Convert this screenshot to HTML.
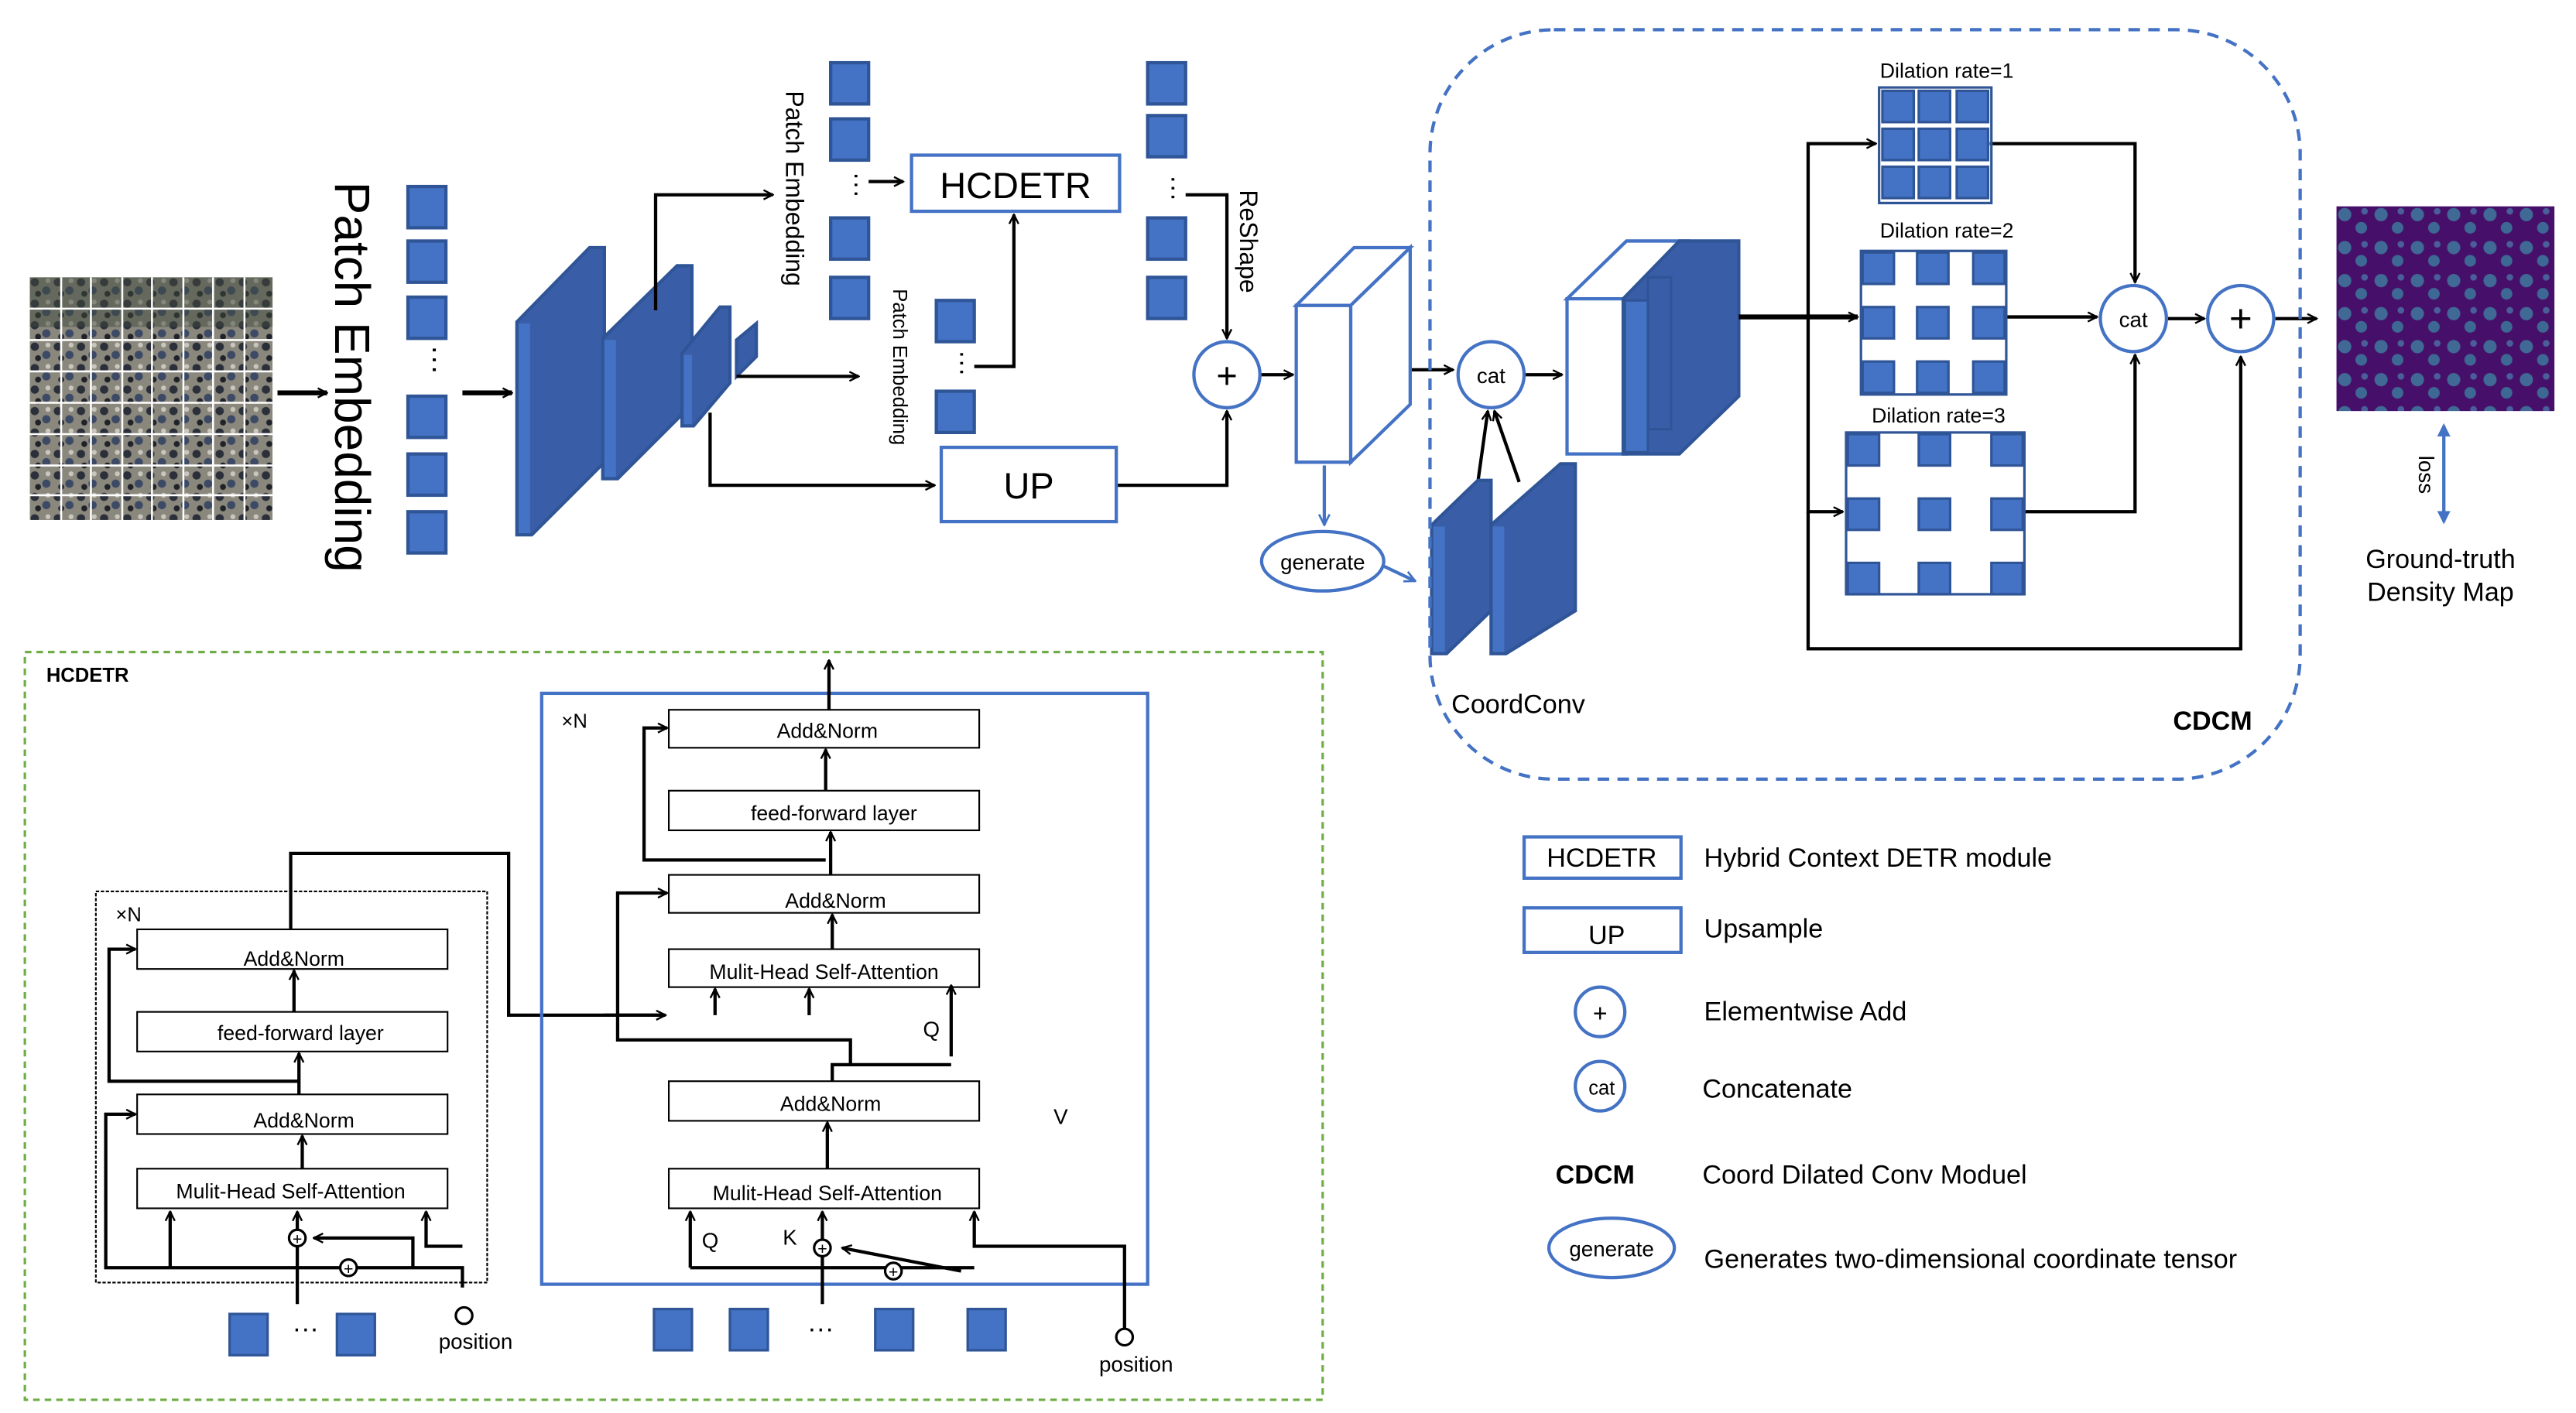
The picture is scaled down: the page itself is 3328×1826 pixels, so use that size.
<!DOCTYPE html>
<html><head><meta charset="utf-8"><style>
html,body{margin:0;padding:0;background:#fff;}
svg{display:block;font-family:"Liberation Sans",Arial,sans-serif;}
</style></head><body>
<svg width="3328" height="1826" viewBox="0 0 1560 856" xmlns="http://www.w3.org/2000/svg">
<defs>
<marker id="a" viewBox="0 0 10 10" refX="9" refY="5" markerWidth="7" markerHeight="7" orient="auto" markerUnits="userSpaceOnUse"><path d="M1,1 L9,5 L1,9" fill="none" stroke="#000" stroke-width="1.6"/></marker>
<marker id="ab" viewBox="0 0 10 10" refX="9" refY="5" markerWidth="8" markerHeight="8" orient="auto" markerUnits="userSpaceOnUse"><path d="M1,1 L9,5 L1,9" fill="none" stroke="#4472C4" stroke-width="1.6"/></marker>
<marker id="at" viewBox="0 0 10 10" refX="8" refY="5" markerWidth="8" markerHeight="8" orient="auto-start-reverse" markerUnits="userSpaceOnUse"><path d="M0,0 L10,5 L0,10z" fill="#4472C4"/></marker>
<pattern id="crowd" x="18" y="168" width="14" height="13" patternUnits="userSpaceOnUse">
<rect width="14" height="13" fill="#8a877d"/>
<circle cx="3" cy="3" r="2.5" fill="#2b2f3a"/><circle cx="10" cy="8" r="2.5" fill="#3d4a66"/><circle cx="5" cy="10" r="1.8" fill="#1f2228"/><circle cx="11" cy="2" r="1.5" fill="#c9c6bd"/>
</pattern>
<pattern id="blob" x="1415" y="125" width="22" height="20" patternUnits="userSpaceOnUse">
<rect width="22" height="20" fill="#46106a"/>
<circle cx="5" cy="5" r="4" fill="#3f7fa0" opacity="0.8"/><circle cx="15" cy="13" r="3.5" fill="#3b8ea6" opacity="0.7"/><circle cx="17" cy="3" r="2" fill="#4a5f9a"/>
</pattern>
</defs>
<g stroke="#000" stroke-width="2" fill="none">
<rect x="18" y="168" width="147" height="147" fill="url(#crowd)" stroke="none"/>
<rect x="18" y="168" width="147" height="30" fill="#3f4a3c" stroke="none" opacity="0.5"/>
<g stroke="#fff" stroke-width="1.2">
<line x1="37" y1="168" x2="37" y2="315"/><line x1="55" y1="168" x2="55" y2="315"/><line x1="74" y1="168" x2="74" y2="315"/><line x1="92" y1="168" x2="92" y2="315"/><line x1="111" y1="168" x2="111" y2="315"/><line x1="129" y1="168" x2="129" y2="315"/><line x1="148" y1="168" x2="148" y2="315"/>
<line x1="18" y1="187" x2="165" y2="187"/><line x1="18" y1="206" x2="165" y2="206"/><line x1="18" y1="225" x2="165" y2="225"/><line x1="18" y1="244" x2="165" y2="244"/><line x1="18" y1="263" x2="165" y2="263"/><line x1="18" y1="282" x2="165" y2="282"/><line x1="18" y1="300" x2="165" y2="300"/>
</g>
<line x1="168" y1="238" x2="198" y2="238" marker-end="url(#a)" stroke-width="3"/>
<line x1="280" y1="238" x2="310" y2="238" marker-end="url(#a)" stroke-width="3"/>
</g>
<text transform="translate(203,110) rotate(90)" font-size="30" fill="#000">Patch Embedding</text>
<g fill="#4472C4" stroke="#2F5597" stroke-width="2">
<rect x="247" y="113" width="23" height="25"/><rect x="247" y="146" width="23" height="25"/><rect x="247" y="180" width="23" height="25"/>
<rect x="247" y="240" width="23" height="25"/><rect x="247" y="275" width="23" height="25"/><rect x="247" y="310" width="23" height="25"/>
</g>
<text x="258" y="218" font-size="18" text-anchor="middle" transform="rotate(90,258,218)">···</text>
<g fill="#3A5DA8" stroke="#2F5597" stroke-width="2">
<polygon points="313,195 357,150 366,150 366,280 322,324 313,324"/>
<polygon points="365,205 410,161 419,161 419,245 374,290 365,290"/>
<polygon points="413,214 436,186 442,186 442,232 420,258 413,258"/>
<polygon points="446,206 458,196 458,216 446,228"/>
</g>
<g fill="#4472C4" stroke="none"><rect x="314" y="196" width="7" height="127"/><rect x="366" y="206" width="7" height="83"/><rect x="414" y="215" width="5" height="42"/></g>
<g stroke="#000" stroke-width="2" fill="none">
<polyline points="397,188 397,118 468,118" marker-end="url(#a)"/>
<line x1="446" y1="228" x2="520" y2="228" marker-end="url(#a)"/>
<polyline points="430,250 430,294 566,294" marker-end="url(#a)"/>
<line x1="526" y1="110" x2="547" y2="110" marker-end="url(#a)"/>
<polyline points="590,222 614,222 614,130" marker-end="url(#a)"/>
<polyline points="676,294 743,294 743,249" marker-end="url(#a)"/>
<polyline points="718,118 743,118 743,205" marker-end="url(#a)"/>
<line x1="763" y1="227" x2="783" y2="227" marker-end="url(#a)"/>
<line x1="853" y1="224" x2="880" y2="224" marker-end="url(#a)"/>
<line x1="923" y1="227" x2="946" y2="227" marker-end="url(#a)"/>
<line x1="895" y1="292" x2="901" y2="249" marker-end="url(#a)"/>
<line x1="920" y1="292" x2="905" y2="249" marker-end="url(#a)"/>
</g>
<text transform="translate(476,55) rotate(90)" font-size="15">Patch Embedding</text>
<text transform="translate(541,175) rotate(90)" font-size="12">Patch Embedding</text>
<text transform="translate(751,115) rotate(90)" font-size="15">ReShape</text>
<g fill="#4472C4" stroke="#2F5597" stroke-width="2">
<rect x="503" y="38" width="23" height="25"/><rect x="503" y="72" width="23" height="25"/><rect x="503" y="132" width="23" height="25"/><rect x="503" y="168" width="23" height="25"/>
<rect x="567" y="182" width="23" height="25"/><rect x="567" y="237" width="23" height="25"/>
<rect x="695" y="38" width="23" height="25"/><rect x="695" y="70" width="23" height="25"/><rect x="695" y="132" width="23" height="25"/><rect x="695" y="168" width="23" height="25"/>
</g>
<text x="514" y="112" font-size="16" text-anchor="middle" transform="rotate(90,514,112)">···</text>
<text x="578" y="220" font-size="16" text-anchor="middle" transform="rotate(90,578,220)">···</text>
<text x="706" y="114" font-size="16" text-anchor="middle" transform="rotate(90,706,114)">···</text>
<rect x="552" y="94" width="126" height="34" fill="#fff" stroke="#4472C4" stroke-width="2"/>
<text x="615" y="120" font-size="22" text-anchor="middle">HCDETR</text>
<rect x="570" y="271" width="106" height="45" fill="#fff" stroke="#4472C4" stroke-width="2"/>
<text x="623" y="302" font-size="22" text-anchor="middle">UP</text>
<circle cx="743" cy="227" r="20" fill="#fff" stroke="#4472C4" stroke-width="2"/>
<text x="743" y="235" font-size="22" text-anchor="middle">+</text>
<g fill="#fff" stroke="#4472C4" stroke-width="2">
<rect x="785" y="185" width="33" height="95"/>
<polygon points="785,185 820,150 854,150 818,185"/>
<polygon points="818,185 854,150 854,245 818,280"/>
</g>
<line x1="802" y1="282" x2="802" y2="318" stroke="#4472C4" stroke-width="2" marker-end="url(#ab)"/>
<ellipse cx="801" cy="340" rx="37" ry="18" fill="#fff" stroke="#4472C4" stroke-width="2"/>
<text x="801" y="345" font-size="13" text-anchor="middle">generate</text>
<line x1="838" y1="343" x2="857" y2="352" stroke="#4472C4" stroke-width="2" marker-end="url(#ab)"/>
<circle cx="903" cy="227" r="20" fill="#fff" stroke="#4472C4" stroke-width="2"/>
<text x="903" y="232" font-size="13" text-anchor="middle">cat</text>
<g fill="#3A5DA8" stroke="#2F5597" stroke-width="2">
<polygon points="867,318 895,291 903,291 903,370 876,396 867,396"/>
<polygon points="903,318 945,281 954,281 954,370 912,396 903,396"/>
</g>
<g fill="#4472C4"><rect x="868" y="319" width="7" height="76"/><rect x="904" y="319" width="7" height="76"/></g>
<g stroke="#4472C4" stroke-width="2">
<polygon points="949,181 985,146 1021,146 985,181" fill="#fff"/>
<rect x="949" y="181" width="36" height="94" fill="#fff"/>
<polygon points="983,181 1017,146 1053,146 1053,240 1017,275 983,275" fill="#3A5DA8" stroke="#2F5597"/>
</g>
<g stroke="#2F5597" stroke-width="1.5" fill="#4472C4"><rect x="984" y="182" width="14" height="92"/><rect x="998" y="168" width="14" height="92" fill="none"/></g>
<line x1="1053" y1="192" x2="1125" y2="192" stroke="#000" stroke-width="3" marker-end="url(#a)"/>
<g stroke="#000" stroke-width="2" fill="none">
<polyline points="1095,192 1095,87 1136,87" marker-end="url(#a)"/>
<polyline points="1095,192 1095,310 1116,310" marker-end="url(#a)"/>
<polyline points="1095,310 1095,393 1357,393 1357,216" marker-end="url(#a)"/>
<polyline points="1205,87 1293,87 1293,171" marker-end="url(#a)"/>
<line x1="1214" y1="192" x2="1270" y2="192" marker-end="url(#a)"/>
<polyline points="1226,310 1293,310 1293,215" marker-end="url(#a)"/>
<line x1="1313" y1="193" x2="1335" y2="193" marker-end="url(#a)"/>
<line x1="1378" y1="193" x2="1403" y2="193" marker-end="url(#a)"/>
</g>
<g fill="#4472C4" stroke="#2F5597" stroke-width="1.5">
<rect x="1140" y="55" width="19" height="19"/><rect x="1162" y="55" width="19" height="19"/><rect x="1185" y="55" width="19" height="19"/>
<rect x="1140" y="78" width="19" height="19"/><rect x="1162" y="78" width="19" height="19"/><rect x="1185" y="78" width="19" height="19"/>
<rect x="1140" y="101" width="19" height="19"/><rect x="1162" y="101" width="19" height="19"/><rect x="1185" y="101" width="19" height="19"/>
<rect x="1128" y="153" width="19" height="19"/><rect x="1161" y="153" width="19" height="19"/><rect x="1195" y="153" width="19" height="19"/>
<rect x="1128" y="186" width="19" height="19"/><rect x="1161" y="186" width="19" height="19"/><rect x="1195" y="186" width="19" height="19"/>
<rect x="1128" y="219" width="19" height="19"/><rect x="1161" y="219" width="19" height="19"/><rect x="1195" y="219" width="19" height="19"/>
<rect x="1119" y="263" width="19" height="19"/><rect x="1162" y="263" width="19" height="19"/><rect x="1206" y="263" width="19" height="19"/>
<rect x="1119" y="302" width="19" height="19"/><rect x="1162" y="302" width="19" height="19"/><rect x="1206" y="302" width="19" height="19"/>
<rect x="1119" y="341" width="19" height="19"/><rect x="1162" y="341" width="19" height="19"/><rect x="1206" y="341" width="19" height="19"/>
</g>
<g fill="none" stroke="#2F5597" stroke-width="1.5"><rect x="1138" y="53" width="68" height="70"/><rect x="1127" y="152" width="88" height="87"/><rect x="1118" y="262" width="108" height="98"/></g>
<g font-size="12.5" text-anchor="middle"><text x="1179" y="47">Dilation rate=1</text><text x="1179" y="144">Dilation rate=2</text><text x="1174" y="256">Dilation rate=3</text></g>
<circle cx="1292" cy="193" r="20" fill="#fff" stroke="#4472C4" stroke-width="2"/>
<text x="1292" y="198" font-size="13" text-anchor="middle">cat</text>
<circle cx="1357" cy="193" r="20" fill="#fff" stroke="#4472C4" stroke-width="2"/>
<text x="1357" y="201" font-size="24" text-anchor="middle">+</text>
<rect x="866" y="18" width="527" height="454" rx="75" fill="none" stroke="#4472C4" stroke-width="2" stroke-dasharray="7,5"/>
<text x="879" y="432" font-size="16">CoordConv</text>
<text x="1316" y="442" font-size="16" font-weight="bold">CDCM</text>
<rect x="1415" y="125" width="132" height="124" fill="url(#blob)"/>
<line x1="1480" y1="258" x2="1480" y2="316" stroke="#4472C4" stroke-width="2" marker-start="url(#at)" marker-end="url(#at)"/>
<text transform="translate(1465,276) rotate(90)" font-size="13">loss</text>
<text x="1478" y="344" font-size="16" text-anchor="middle">Ground-truth</text>
<text x="1478" y="364" font-size="16" text-anchor="middle">Density Map</text>
<rect x="923" y="507" width="95" height="25" fill="#fff" stroke="#4472C4" stroke-width="2"/>
<text x="970" y="525" font-size="16" text-anchor="middle">HCDETR</text>
<text x="1032" y="525" font-size="16">Hybrid Context  DETR module</text>
<rect x="923" y="550" width="95" height="27" fill="#fff" stroke="#4472C4" stroke-width="2"/>
<text x="973" y="572" font-size="16" text-anchor="middle">UP</text>
<text x="1032" y="568" font-size="16">Upsample</text>
<circle cx="969" cy="613" r="15" fill="#fff" stroke="#4472C4" stroke-width="2"/>
<text x="969" y="619" font-size="15" text-anchor="middle">+</text>
<text x="1032" y="618" font-size="16">Elementwise Add</text>
<circle cx="969" cy="658" r="15" fill="#fff" stroke="#4472C4" stroke-width="2"/>
<text x="970" y="663" font-size="12" text-anchor="middle">cat</text>
<text x="1031" y="665" font-size="16">Concatenate</text>
<text x="942" y="717" font-size="16" font-weight="bold">CDCM</text>
<text x="1031" y="717" font-size="16">Coord Dilated Conv Moduel</text>
<ellipse cx="976" cy="756" rx="38" ry="18" fill="#fff" stroke="#4472C4" stroke-width="2"/>
<text x="976" y="761" font-size="13" text-anchor="middle">generate</text>
<text x="1032" y="768" font-size="16">Generates  two-dimensional coordinate tensor</text>
<rect x="15" y="395" width="786" height="453" fill="none" stroke="#70AD47" stroke-width="1.5" stroke-dasharray="4,3"/>
<text x="28" y="413" font-size="12" font-weight="bold">HCDETR</text>
<rect x="58" y="540" width="237" height="237" fill="none" stroke="#000" stroke-width="1" stroke-dasharray="2,1"/>
<text x="70" y="558" font-size="12">×N</text>
<g fill="#fff" stroke="#000" stroke-width="1">
<rect x="83" y="563" width="188" height="24"/><rect x="83" y="613" width="188" height="24"/><rect x="83" y="663" width="188" height="24"/><rect x="83" y="708" width="188" height="24"/>
<rect x="405" y="430" width="188" height="23"/><rect x="405" y="479" width="188" height="24"/><rect x="405" y="530" width="188" height="23"/><rect x="405" y="575" width="188" height="23"/><rect x="405" y="655" width="188" height="24"/><rect x="405" y="708" width="188" height="24"/>
</g>
<g font-size="12.5" text-anchor="middle">
<text x="178" y="585">Add&amp;Norm</text><text x="182" y="630">feed-forward layer</text><text x="184" y="683">Add&amp;Norm</text><text x="176" y="726">Mulit-Head Self-Attention</text>
<text x="501" y="447">Add&amp;Norm</text><text x="505" y="497">feed-forward layer</text><text x="506" y="550">Add&amp;Norm</text><text x="499" y="593">Mulit-Head Self-Attention</text><text x="503" y="673">Add&amp;Norm</text><text x="501" y="727">Mulit-Head Self-Attention</text>
</g>
<g stroke="#000" stroke-width="2" fill="none">
<line x1="178" y1="613" x2="178" y2="588" marker-end="url(#a)"/>
<line x1="181" y1="663" x2="181" y2="638" marker-end="url(#a)"/>
<line x1="183" y1="708" x2="183" y2="688" marker-end="url(#a)"/>
<polyline points="181,655 66,655 66,575 82,575" marker-end="url(#a)"/>
<polyline points="103,768 64,768 64,675 82,675" marker-end="url(#a)"/>
<line x1="103" y1="768" x2="103" y2="734" marker-end="url(#a)"/>
<polyline points="180,790 180,752" />
<line x1="180" y1="745" x2="180" y2="734" marker-end="url(#a)"/>
<polyline points="103,768 280,768 280,780"/>
<polyline points="280,755 258,755 258,734" marker-end="url(#a)"/>
<polyline points="250,768 250,750 190,750" marker-end="url(#a)"/>
<polyline points="176,563 176,517 308,517 308,615 402,615"/>
<line x1="366" y1="615" x2="403" y2="615" marker-end="url(#a)"/>
</g>
<circle cx="180" cy="750" r="5" fill="#fff" stroke="#000" stroke-width="1.5"/><text x="180" y="754" font-size="10" text-anchor="middle">+</text>
<circle cx="211" cy="768" r="5" fill="#fff" stroke="#000" stroke-width="1.5"/><text x="211" y="772" font-size="10" text-anchor="middle">+</text>
<circle cx="281" cy="797" r="5" fill="#fff" stroke="#000" stroke-width="1.5"/>
<text x="288" y="817" font-size="13" text-anchor="middle">position</text>
<g fill="#4472C4" stroke="#2F5597" stroke-width="1.5">
<rect x="139" y="796" width="23" height="25"/><rect x="204" y="796" width="23" height="25"/>
<rect x="396" y="793" width="23" height="25"/><rect x="442" y="793" width="23" height="25"/><rect x="530" y="793" width="23" height="25"/><rect x="586" y="793" width="23" height="25"/>
</g>
<text x="185" y="810" font-size="16" text-anchor="middle">···</text>
<text x="497" y="810" font-size="16" text-anchor="middle">···</text>
<rect x="328" y="420" width="367" height="358" fill="none" stroke="#4472C4" stroke-width="2"/>
<text x="340" y="441" font-size="12">×N</text>
<g stroke="#000" stroke-width="2" fill="none">
<line x1="502" y1="430" x2="502" y2="400" marker-end="url(#a)"/>
<line x1="500" y1="479" x2="500" y2="454" marker-end="url(#a)"/>
<line x1="503" y1="530" x2="503" y2="504" marker-end="url(#a)"/>
<line x1="504" y1="575" x2="504" y2="554" marker-end="url(#a)"/>
<line x1="501" y1="708" x2="501" y2="680" marker-end="url(#a)"/>
<polyline points="500,521 390,521 390,441 404,441" marker-end="url(#a)"/>
<polyline points="515,645 515,630 374,630 374,541 404,541" marker-end="url(#a)"/>
<polyline points="576,640 576,597" marker-end="url(#a)"/>
<polyline points="504,655 504,645 576,645"/>
<line x1="433" y1="615" x2="433" y2="599" marker-end="url(#a)"/>
<line x1="490" y1="615" x2="490" y2="599" marker-end="url(#a)"/>
<polyline points="418,768 418,734" marker-end="url(#a)"/>
<polyline points="418,768 590,768"/>
<line x1="498" y1="790" x2="498" y2="734" marker-end="url(#a)"/>
<polyline points="681,805 681,755 590,755 590,734" marker-end="url(#a)"/>
<polyline points="582,770 510,756" marker-end="url(#a)"/>
</g>
<circle cx="498" cy="756" r="5" fill="#fff" stroke="#000" stroke-width="1.5"/><text x="498" y="760" font-size="10" text-anchor="middle">+</text>
<circle cx="541" cy="770" r="5" fill="#fff" stroke="#000" stroke-width="1.5"/><text x="541" y="774" font-size="10" text-anchor="middle">+</text>
<circle cx="681" cy="810" r="5" fill="#fff" stroke="#000" stroke-width="1.5"/>
<text x="688" y="831" font-size="13" text-anchor="middle">position</text>
<g font-size="13"><text x="559" y="628">Q</text><text x="638" y="681">V</text><text x="425" y="756">Q</text><text x="474" y="754">K</text></g>
</svg>
</body></html>
